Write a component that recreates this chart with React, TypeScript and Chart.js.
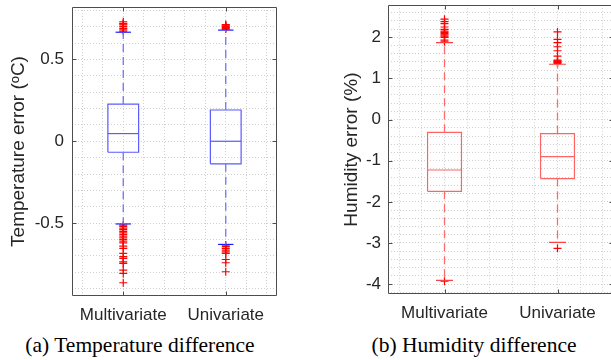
import React, { useEffect, useRef } from "react";
import { Chart, registerables } from "chart.js";
Chart.register(...registerables);

// ---------- data ----------
const categories = ["Multivariate", "Univariate"];
const categoryPos = [1, 2];

// Temperature error (°C)
const tempQ1 = [-0.067, -0.138];
const tempMedian = [0.047, 0.0];
const tempQ3 = [0.227, 0.191];
const tempWhiskerLow = [-0.505, -0.63];
const tempWhiskerHigh = [0.666, 0.679];
const tempOutliersMulti = [
  0.672, 0.68, 0.69, 0.7, 0.71, 0.715, 0.72, 0.73,
  -0.512, -0.52, -0.53, -0.54, -0.55, -0.56, -0.57, -0.58, -0.59, -0.6, -0.61, -0.62,
  -0.64, -0.654, -0.685, -0.705, -0.715, -0.736, -0.746, -0.787, -0.807, -0.864,
];
const tempOutliersUni = [
  0.685, 0.69, 0.695, 0.7, 0.705, 0.71, 0.713,
  -0.634, -0.644, -0.654, -0.665, -0.675, -0.685, -0.722, -0.742, -0.797,
];
const tempTickLabels = [-0.5, 0, 0.5];

// Humidity error (%)
const humQ1 = [-1.745, -1.435];
const humMedian = [-1.226, -0.9];
const humQ3 = [-0.31, -0.34];
const humWhiskerLow = [-3.91, -2.985];
const humWhiskerHigh = [1.87, 1.345];
const humOutliersMulti = [
  1.89, 1.93, 2.0, 2.03, 2.06, 2.09, 2.12, 2.15, 2.19, 2.25, 2.33, 2.38, 2.44,
  -3.93,
];
const humOutliersUni = [
  1.367, 1.39, 1.41, 1.43, 1.447, 1.544, 1.673, 1.77, 1.868, 1.95, 2.13,
  -3.13,
];
const humTickLabels = [-4, -3, -2, -1, 0, 1, 2];

// ---------- style ----------
const SANS = '"Liberation Sans", Arial, Helvetica, sans-serif';
const SERIF = '"Liberation Serif", "Times New Roman", serif';
const TEXT = "#262626";
const FRAME = "#4d4d4d";
const GRID = "#cfcfcf";
const BOX_HALF = 0.15;
const CAP_HALF = 0.075;

type Colors = { box: string; whisker: string; cap: string; outlier: string };

function makeDatasets(
  q1: number[], med: number[], q3: number[], lo: number[], hi: number[],
  outliers: number[][], c: Colors
) {
  const line = (pts: { x: number; y: number }[], color: string, dash: number[] = [], width = 1) => ({
    data: pts, showLine: true, borderColor: color, borderWidth: width, borderDash: dash,
    pointRadius: 0, fill: false, tension: 0,
  });
  const ds: any[] = [];
  categoryPos.forEach((x, i) => {
    ds.push(line([{ x, y: q3[i] }, { x, y: hi[i] }], c.whisker, [8, 5], 1.3));
    ds.push(line([{ x, y: q1[i] }, { x, y: lo[i] }], c.whisker, [8, 5], 1.3));
  });
  categoryPos.forEach((x, i) => {
    ds.push(line([
      { x: x - BOX_HALF, y: q1[i] }, { x: x + BOX_HALF, y: q1[i] },
      { x: x + BOX_HALF, y: q3[i] }, { x: x - BOX_HALF, y: q3[i] },
      { x: x - BOX_HALF, y: q1[i] },
    ], c.box, [], 1.2));
    ds.push(line([{ x: x - BOX_HALF, y: med[i] }, { x: x + BOX_HALF, y: med[i] }], c.box, [], 1.2));
    ds.push(line([{ x: x - CAP_HALF, y: hi[i] }, { x: x + CAP_HALF, y: hi[i] }], c.cap, [], 1.2));
    ds.push(line([{ x: x - CAP_HALF, y: lo[i] }, { x: x + CAP_HALF, y: lo[i] }], c.cap, [], 1.2));
    ds.push({
      data: outliers[i].map((v) => ({ x, y: v })), showLine: false,
      pointStyle: "cross", pointRadius: 4, borderColor: c.outlier, borderWidth: 1.2,
      backgroundColor: c.outlier,
    });
  });
  return ds;
}

const framePlugin = {
  id: "frame",
  afterDraw(chart: any) {
    const { ctx, chartArea: a, scales } = chart;
    const majors: number[] = chart.options.plugins.frame.majors;
    ctx.save();
    ctx.strokeStyle = FRAME;
    ctx.lineWidth = 1;
    const L = Math.round(a.left) + 0.5, R = Math.round(a.right) - 0.5;
    const T = Math.round(a.top) + 0.5, B = Math.round(a.bottom) - 0.5;
    ctx.beginPath();
    ctx.moveTo(L, T); ctx.lineTo(R, T); ctx.lineTo(R, B); ctx.lineTo(L, B); ctx.closePath();
    ctx.stroke();
    ctx.beginPath();
    majors.forEach((v) => {
      const y = Math.round(scales.y.getPixelForValue(v)) + 0.5;
      ctx.moveTo(L, y); ctx.lineTo(L + 4, y);
      ctx.moveTo(R, y); ctx.lineTo(R - 4, y);
    });
    categoryPos.forEach((v) => {
      const x = Math.round(scales.x.getPixelForValue(v)) + 0.5;
      ctx.moveTo(x, B); ctx.lineTo(x, B - 4);
      ctx.moveTo(x, T); ctx.lineTo(x, T + 4);
    });
    ctx.stroke();
    ctx.restore();
  },
};

function range(from: number, to: number, step: number) {
  const out: number[] = [];
  const n = Math.round((to - from) / step);
  for (let k = 0; k <= n; k++) out.push(Math.round((from + k * step) * 1000) / 1000);
  return out;
}

type Panel = {
  width: number; height: number;
  plotLeft: number; plotRight: number; plotTop: number; plotBottom: number;
  yMin: number; yMax: number; yGrid: number[]; yMajors: number[];
  yTitle: string; titleOffset: number; yTickPad: number; datasets: any[];
};

function buildConfig(p: Panel): any {
  const xGrid = range(0.6, 2.4, 0.2);
  const tickFont = { family: SANS, size: 17 };
  return {
    type: "scatter",
    data: { datasets: p.datasets },
    plugins: [framePlugin],
    options: {
      animation: false,
      responsive: false,
      devicePixelRatio: 1,
      events: [],
      layout: { padding: { left: 0, top: p.plotTop, right: p.width - p.plotRight, bottom: 0 } },
      plugins: {
        legend: { display: false },
        tooltip: { enabled: false },
        frame: { majors: p.yMajors },
      },
      scales: {
        x: {
          type: "linear", min: 0.5, max: 2.5,
          afterBuildTicks: (s: any) => { s.ticks = xGrid.map((v) => ({ value: v })); },
          afterFit: (s: any) => {
            s.height = p.height - p.plotBottom;
            s.paddingLeft = 0; s.paddingRight = 0; s.paddingTop = 0; s.paddingBottom = 0;
          },
          grid: { color: GRID, lineWidth: 1, drawTicks: false, tickLength: 0 },
          border: { display: false, dash: [1, 2] },
          ticks: {
            autoSkip: false, maxRotation: 0, padding: 9, font: tickFont, color: TEXT,
            callback: (v: number) => {
              const i = categoryPos.findIndex((c) => Math.abs(c - v) < 1e-6);
              return i >= 0 ? categories[i] : "";
            },
          },
        },
        y: {
          type: "linear", min: p.yMin, max: p.yMax,
          afterBuildTicks: (s: any) => { s.ticks = p.yGrid.map((v) => ({ value: v })); },
          afterFit: (s: any) => {
            s.width = p.plotLeft;
            s.paddingLeft = 0; s.paddingRight = 0; s.paddingTop = 0; s.paddingBottom = 0;
          },
          grid: { color: GRID, lineWidth: 1, drawTicks: false, tickLength: 0 },
          border: { display: false, dash: [1, 2] },
          ticks: {
            autoSkip: false, padding: p.yTickPad, font: tickFont, color: TEXT,
            callback: (v: number) => {
              const m = p.yMajors.find((c) => Math.abs(c - v) < 1e-6);
              return m === undefined ? "" : String(m);
            },
          },
          title: {
            display: true, text: p.yTitle, color: TEXT,
            font: { family: SANS, size: 19 },
            padding: { top: p.titleOffset, bottom: 0 },
          },
        },
      },
    },
  };
}

export default function App() {
  const leftRef = useRef<HTMLCanvasElement>(null);
  const rightRef = useRef<HTMLCanvasElement>(null);

  useEffect(() => {
    const blue: Colors = { box: "#5a5aff", whisker: "#7272ff", cap: "#1a1aff", outlier: "#ff0000" };
    const red: Colors = { box: "#ff6464", whisker: "#ff6a6a", cap: "#ff4040", outlier: "#ff0000" };
    const left = new Chart(leftRef.current!, buildConfig({
      width: 300, height: 330, plotLeft: 72, plotRight: 277, plotTop: 7, plotBottom: 296,
      yMin: -0.945, yMax: 0.82, yGrid: range(-0.9, 0.8, 0.1), yMajors: tempTickLabels,
      yTitle: "Temperature error (\u1D52C)", titleOffset: 7, yTickPad: 8,
      datasets: makeDatasets(tempQ1, tempMedian, tempQ3, tempWhiskerLow, tempWhiskerHigh,
        [tempOutliersMulti, tempOutliersUni], blue),
    }));
    const right = new Chart(rightRef.current!, buildConfig({
      width: 320, height: 330, plotLeft: 88, plotRight: 314, plotTop: 5, plotBottom: 294,
      yMin: -4.24, yMax: 2.78, yGrid: range(-4.2, 2.6, 0.2), yMajors: humTickLabels,
      yTitle: "Humidity error (%)", titleOffset: 40, yTickPad: 7,
      datasets: makeDatasets(humQ1, humMedian, humQ3, humWhiskerLow, humWhiskerHigh,
        [humOutliersMulti, humOutliersUni], red),
    }));
    return () => { left.destroy(); right.destroy(); };
  }, []);

  const caption: React.CSSProperties = {
    position: "absolute", top: 335, width: 300, textAlign: "center",
    fontFamily: SERIF, fontSize: 21.5, lineHeight: "21px", color: "#000", whiteSpace: "nowrap",
  };

  return (
    <div style={{ position: "fixed", left: 0, top: 0, width: 611, height: 360, overflow: "hidden", background: "#fff" }}>
      <canvas ref={leftRef} width={300} height={330} style={{ position: "absolute", left: 0, top: 0 }} />
      <canvas ref={rightRef} width={320} height={330} style={{ position: "absolute", left: 300, top: 0 }} />
      <div style={{ ...caption, left: -10 }}>(a) Temperature difference</div>
      <div style={{ ...caption, left: 324 }}>(b) Humidity difference</div>
    </div>
  );
}
